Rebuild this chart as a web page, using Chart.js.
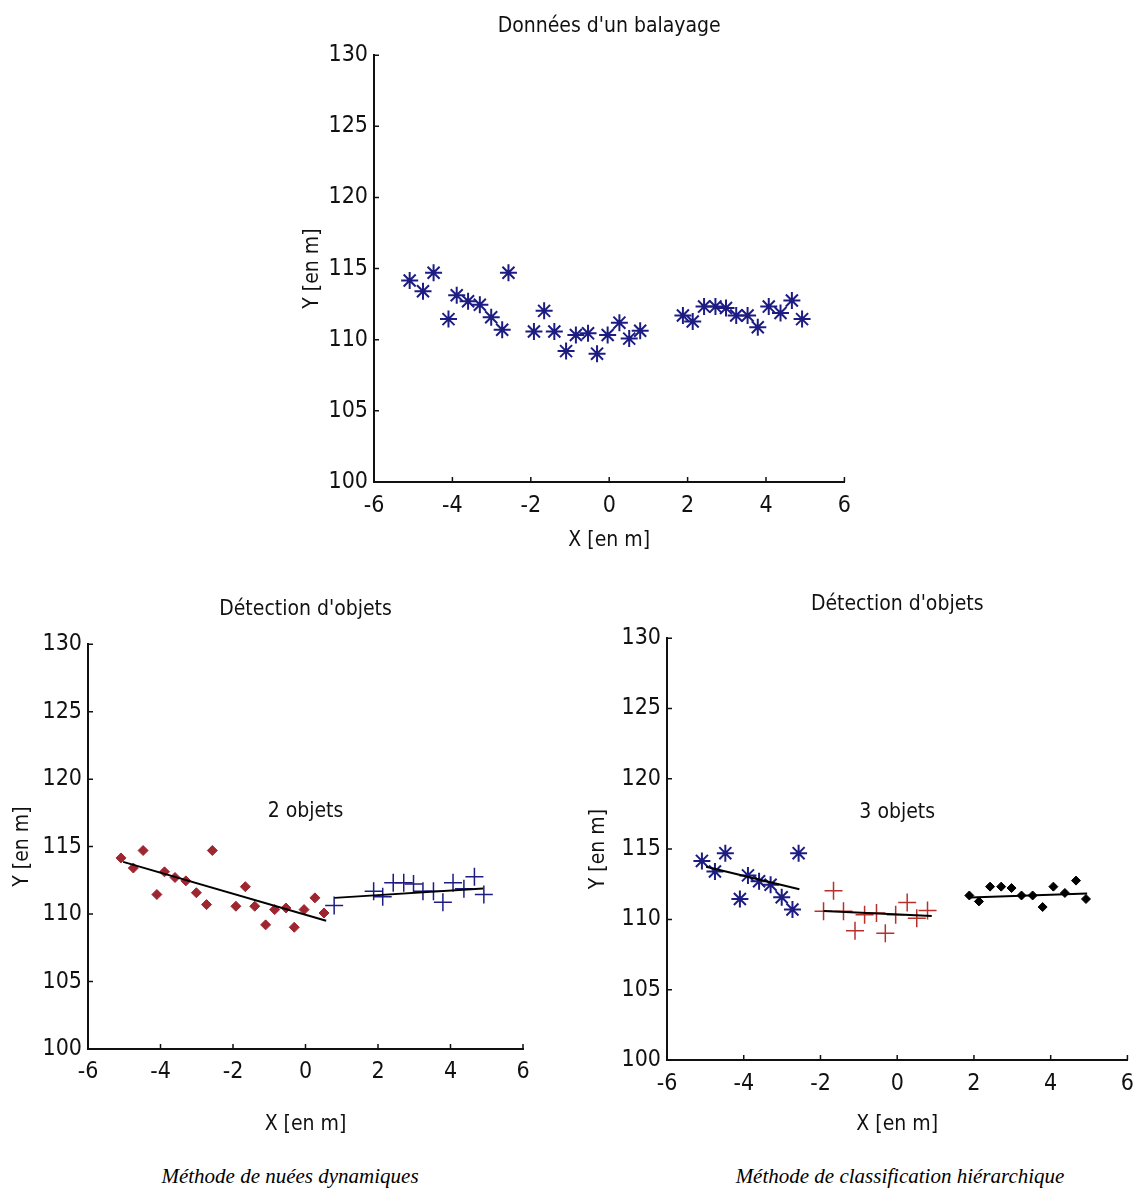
<!DOCTYPE html>
<html>
<head>
<meta charset="utf-8">
<script src="https://cdn.jsdelivr.net/npm/chart.js@4.4.1/dist/chart.umd.min.js"></script>
<style>
  html, body { margin: 0; padding: 0; background: #fff; }
  body { width: 1137px; height: 1198px; position: relative; overflow: hidden; }
  canvas { position: absolute; }
  .caption {
    position: absolute; top: 1164px; width: 520px; text-align: center;
    font-family: "Liberation Serif", "Times New Roman", serif;
    font-style: italic; font-size: 21px; color: #000;
  }
</style>
</head>
<body>
<canvas id="scanChart" width="571" height="570" style="left:290px;top:0px"></canvas>
<canvas id="kmeansChart" width="560" height="580" style="left:0px;top:580px"></canvas>
<canvas id="hierChart" width="569" height="580" style="left:575px;top:580px"></canvas>
<div class="caption" style="left:30px">Méthode de nuées dynamiques</div>
<div class="caption" style="left:640px">Méthode de classification hiérarchique</div>

<script>
// ==================== DATA ====================
// one laser scan (X, Y in metres)
const scanX = [-5.09, -4.75, -4.48, -4.10, -3.89, -3.60, -3.30, -3.01, -2.73, -2.57,
               -1.92, -1.66, -1.40, -1.10, -0.85, -0.54, -0.31, -0.04, 0.26, 0.51, 0.79,
               1.88, 2.13, 2.42, 2.71, 2.98, 3.24, 3.53, 3.79, 4.07, 4.37, 4.66, 4.92];
const scanY = [114.16, 113.41, 114.71, 111.45, 113.13, 112.71, 112.46, 111.58, 110.70, 114.71,
               110.58, 112.03, 110.58, 109.20, 110.33, 110.45, 109.02, 110.33, 111.20, 110.08, 110.63,
               111.70, 111.28, 112.33, 112.33, 112.23, 111.70, 111.70, 110.88, 112.33, 111.88, 112.76, 111.45];

// cluster sizes (points taken in scan order)
const kmeansSizes = [20, 13];
const hierSizes = [10, 11, 12];

// fitted segments, k-means
const kmRedFitX = [-5.03, 0.57];
const kmRedFitY = [113.87, 109.50];
const kmBlueFitX = [0.80, 4.90];
const kmBlueFitY = [111.20, 111.90];

// fitted segments, hierarchical
const hcBlueFitX = [-4.98, -2.55];
const hcBlueFitY = [113.74, 112.15];
const hcRedFitX = [-1.92, 0.90];
const hcRedFitY = [110.60, 110.25];
const hcBlackFitX = [1.90, 4.95];
const hcBlackFitY = [111.55, 111.85];

const xTicks = { min: -6, max: 6, step: 2 };
const yTicks = { min: 100, max: 130, step: 5 };

// ==================== STYLE ====================
const ink = '#111';
const navy = '#1c1c82';
const darkRed = '#9e2630';
const brickRed = '#b8302c';
const narrow = "'Liberation Sans Narrow', 'Arial Narrow', 'DejaVu Sans Condensed', sans-serif";
const tickFont = { family: narrow, size: 23 };
const titleFont = { family: narrow, size: 21, weight: 'normal' };

function pts(xs, ys) {
    return xs.map((x, i) => ({ x: x, y: ys[i] }));
}

// split scan into consecutive groups
function groups(sizes) {
    const out = [];
    let start = 0;
    sizes.forEach(n => {
        out.push(pts(scanX.slice(start, start + n), scanY.slice(start, start + n)));
        start += n;
    });
    return out;
}

function fitLine(xs, ys) {
    return {
        type: 'line', data: pts(xs, ys), showLine: true,
        borderColor: '#000', borderWidth: 2, pointRadius: 0, fill: false
    };
}

// inward ticks (matlab style) + free text label
const matlabAxes = {
    id: 'matlabAxes',
    afterDraw(chart, args, opts) {
        const ctx = chart.ctx;
        const x = chart.scales.x, y = chart.scales.y;
        const a = chart.chartArea;
        ctx.save();
        ctx.strokeStyle = ink;
        ctx.lineWidth = 1.5;
        ctx.beginPath();
        x.ticks.forEach(t => {
            const px = x.getPixelForValue(t.value);
            ctx.moveTo(px, a.bottom);
            ctx.lineTo(px, a.bottom - 5);
        });
        y.ticks.forEach(t => {
            const py = y.getPixelForValue(t.value);
            ctx.moveTo(a.left, py);
            ctx.lineTo(a.left + 5, py);
        });
        ctx.stroke();
        if (opts.label) {
            ctx.fillStyle = ink;
            ctx.font = titleFont.size + 'px ' + narrow;
            ctx.textAlign = 'center';
            ctx.textBaseline = 'middle';
            ctx.fillText(opts.label, x.getPixelForValue(opts.at[0]), y.getPixelForValue(opts.at[1]));
        }
        ctx.restore();
    }
};

function makeOptions(title, titlePad, pad, yWidth, xHeight, tickPad, label) {
    return {
        responsive: false,
        animation: false,
        layout: { padding: pad },
        plugins: {
            legend: { display: false },
            tooltip: { enabled: false },
            title: { display: true, fullSize: false, text: title, font: titleFont, color: ink, padding: titlePad },
            matlabAxes: label ? { label: label, at: [0, 117.6] } : {}
        },
        scales: {
            x: {
                type: 'linear', min: xTicks.min, max: xTicks.max,
                ticks: { stepSize: xTicks.step, font: tickFont, color: ink, padding: tickPad },
                grid: { display: false, drawTicks: false },
                border: { display: true, color: ink, width: 2 },
                title: { display: true, text: 'X [en m]', font: titleFont, color: ink, padding: 0 },
                afterFit: s => { s.height = xHeight; }
            },
            y: {
                type: 'linear', min: yTicks.min, max: yTicks.max,
                ticks: { stepSize: yTicks.step, font: tickFont, color: ink, padding: 6 },
                grid: { display: false, drawTicks: false },
                border: { display: true, color: ink, width: 2 },
                title: { display: true, text: 'Y [en m]', font: titleFont, color: ink, padding: 0 },
                afterFit: s => { s.width = yWidth; }
            }
        }
    };
}

// ==================== CHARTS ====================
Chart.register(matlabAxes);

// raw scan
new Chart(document.getElementById('scanChart'), {
    type: 'scatter',
    data: {
        datasets: [{
            data: pts(scanX, scanY), pointStyle: 'star', pointRadius: 8.5,
            borderColor: navy, backgroundColor: navy, borderWidth: 2
        }]
    },
    options: makeOptions("Données d'un balayage", { top: 14, bottom: 16 },
        { left: 10, right: 16, top: 0, bottom: 17 }, 74, 71, 10, null)
});

// k-means (nuées dynamiques)
const km = groups(kmeansSizes);
new Chart(document.getElementById('kmeansChart'), {
    type: 'scatter',
    data: {
        datasets: [
            fitLine(kmRedFitX, kmRedFitY),
            fitLine(kmBlueFitX, kmBlueFitY),
            { data: km[0], pointStyle: 'rectRot', pointRadius: 5, borderWidth: 1,
              borderColor: darkRed, backgroundColor: darkRed },
            { data: km[1], pointStyle: 'cross', pointRadius: 9, borderWidth: 1.5,
              borderColor: navy, backgroundColor: navy }
        ]
    },
    options: makeOptions("Détection d'objets", { top: 17, bottom: 22 },
        { left: 10, right: 37, top: 0, bottom: 23 }, 78, 88, 9, '2 objets')
});

// hierarchical clustering
const hc = groups(hierSizes);
new Chart(document.getElementById('hierChart'), {
    type: 'scatter',
    data: {
        datasets: [
            fitLine(hcBlueFitX, hcBlueFitY),
            fitLine(hcRedFitX, hcRedFitY),
            fitLine(hcBlackFitX, hcBlackFitY),
            { data: hc[0], pointStyle: 'star', pointRadius: 8.5, borderWidth: 2,
              borderColor: navy, backgroundColor: navy },
            { data: hc[1], pointStyle: 'cross', pointRadius: 9, borderWidth: 1.5,
              borderColor: brickRed, backgroundColor: brickRed },
            { data: hc[2], pointStyle: 'rectRot', pointRadius: 4.5, borderWidth: 1,
              borderColor: '#000', backgroundColor: '#000' }
        ]
    },
    options: makeOptions("Détection d'objets", { top: 12, bottom: 21 },
        { left: 11, right: 3, top: 0, bottom: 23 }, 81, 77, 10, '3 objets')
});
</script>
</body>
</html>
